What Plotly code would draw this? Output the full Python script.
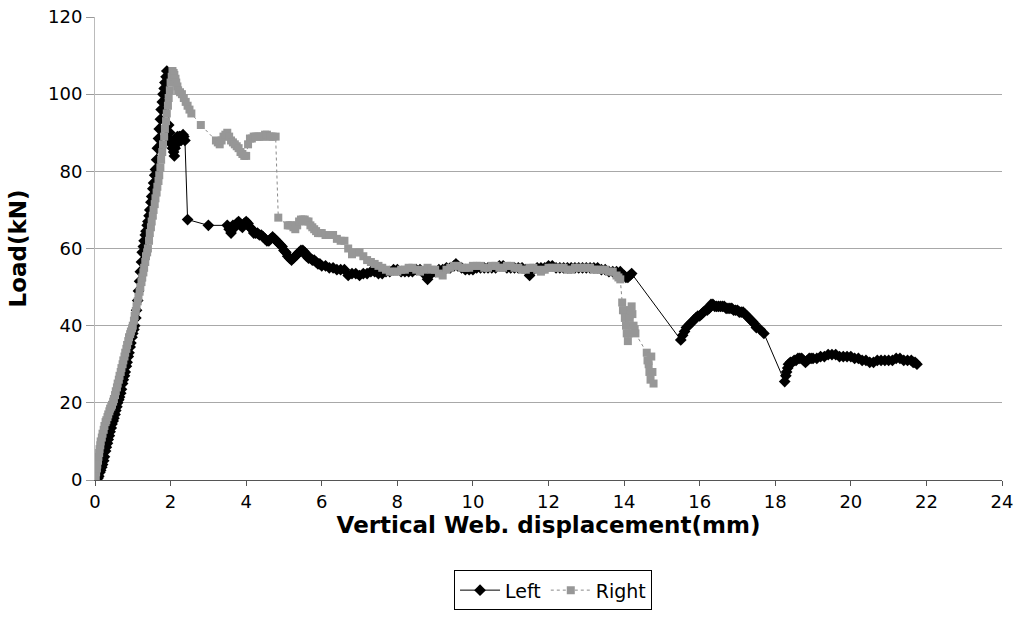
import plotly.graph_objects as go

# Left series (black diamonds)
left_x = [0.05, 0.08, 0.1, 0.13, 0.15, 0.18, 0.2, 0.23, 0.25, 0.28, 0.3, 0.33, 0.35, 0.38, 0.4, 0.43, 0.45, 0.48,
          0.5, 0.53, 0.55, 0.58, 0.6, 0.63, 0.65, 0.68, 0.7, 0.73, 0.75, 0.78, 0.8, 0.83, 0.85, 0.88, 0.9, 0.93,
          0.95, 0.98, 1.0, 1.03, 1.05, 1.08, 1.1, 1.13, 1.15, 1.18, 1.2, 1.23, 1.25, 1.28, 1.3, 1.33, 1.35, 1.38,
          1.4, 1.43, 1.45, 1.48, 1.5, 1.53, 1.55, 1.58, 1.6, 1.63, 1.65, 1.68, 1.7, 1.73, 1.75, 1.78, 1.8, 1.83,
          1.85, 1.88, 1.9,
          1.95, 1.98, 2.0, 2.03, 2.05, 2.08, 2.1, 2.12, 2.15, 2.18, 2.2, 2.23, 2.25, 2.28, 2.3, 2.33, 2.35, 2.38,
          2.45, 3.0, 3.5,
          3.55, 3.6, 3.65, 3.7, 3.75, 3.8, 3.85, 3.9, 3.95, 4.0, 4.05, 4.1, 4.15, 4.2, 4.25, 4.3, 4.35, 4.4, 4.45,
          4.5, 4.55, 4.6, 4.65, 4.7, 4.75, 4.8, 4.85, 4.9, 4.95, 5.0, 5.05, 5.1, 5.15, 5.2, 5.25, 5.3, 5.35, 5.4,
          5.45, 5.5, 5.55, 5.6, 5.65, 5.7, 5.75, 5.8, 5.85, 5.9, 5.95, 6.0, 6.1, 6.2, 6.3, 6.4, 6.5, 6.6, 6.7,
          6.8, 6.9, 7.0, 7.1, 7.2, 7.3, 7.4, 7.5, 7.6, 7.7, 7.8, 7.9,
          8.0, 8.1, 8.2, 8.3, 8.4, 8.5, 8.6, 8.7, 8.8, 8.9, 9.0, 9.1, 9.2, 9.3, 9.4, 9.5, 9.55, 9.6, 9.7, 9.8, 9.9,
          10.0, 10.1, 10.2, 10.3, 10.4, 10.5, 10.6, 10.7, 10.8, 10.9, 11.0, 11.1, 11.2, 11.3, 11.4, 11.5, 11.6,
          11.7, 11.8, 11.9, 12.0, 12.1, 12.2, 12.3, 12.4, 12.5, 12.6, 12.7, 12.8, 12.9, 13.0, 13.1, 13.2, 13.3,
          13.4, 13.5, 13.6, 13.7, 13.8, 13.9, 14.0, 14.05, 14.1, 14.15, 14.2,
          15.5, 15.55, 15.6, 15.65, 15.7, 15.75, 15.8, 15.85, 15.9, 15.95, 16.0, 16.05, 16.1, 16.15, 16.2, 16.25,
          16.3, 16.35, 16.4, 16.45, 16.5, 16.55, 16.6, 16.65, 16.7, 16.75, 16.8, 16.85, 16.9, 16.95, 17.0, 17.05,
          17.1, 17.15, 17.2, 17.25, 17.3, 17.35, 17.4, 17.45, 17.5, 17.6, 17.7,
          18.25, 18.28, 18.3, 18.33, 18.35, 18.4, 18.45, 18.5, 18.55, 18.6, 18.65, 18.7, 18.75, 18.8, 18.85, 18.9,
          18.95, 19.0, 19.1, 19.2, 19.3, 19.4, 19.5, 19.6, 19.7, 19.8, 19.9, 20.0, 20.1, 20.2, 20.3, 20.4, 20.5,
          20.6, 20.7, 20.8, 20.9, 21.0, 21.1, 21.2, 21.3, 21.4, 21.5, 21.6, 21.65, 21.7, 21.75]
left_y = [0, 0.5, 1, 2, 2.5, 3.3, 4, 5, 6, 7.5, 8.5, 9.5, 10.5, 11.5, 12.5, 13.5, 14.5, 15.3,
          16, 17, 18, 19, 20, 20.8, 21.5, 22.5, 23.5, 25, 26, 27, 28, 29.5, 30.5, 32, 33, 34.5,
          35.5, 37, 38, 39, 40, 42, 44, 46.5, 49, 51.5, 54, 56.5, 59, 60.5, 62, 63.5, 64.5, 66,
          67, 68.5, 70, 72, 73.5, 75.5, 77, 79, 80.5, 83, 86, 88.5, 91, 93.5, 96, 98, 100, 101.5,
          103, 104.5, 106,
          92, 90, 88, 87, 86, 85, 84, 86, 87, 89, 88, 89, 89, 88, 88.5, 89.5, 89, 88,
          67.5, 66, 66,
          65, 64, 66, 65.5, 66.5, 67, 66, 65.5, 66.5, 67, 66.5, 65.5, 65, 64, 64, 64, 63.5, 63.5, 63,
          62.5, 62, 62, 62.5, 63, 62.5, 62, 61.5, 61, 60.5, 59.5, 59, 58, 57.5, 57, 57.5, 58, 58.5, 59,
          59.5, 59.5, 59, 58, 57.5, 57.5, 57, 57, 56.5, 56, 56, 55.5, 55.5, 55, 55, 54.5, 54.5, 54.5, 53,
          53.5, 53.5, 53, 53.5, 53.5, 54, 54, 53.5, 53.5, 54, 54, 54.5,
          54.5, 54, 54, 54, 54, 54.5, 54.5, 53.5, 52, 53.5, 54, 54.5, 54.5, 55, 55, 55.5, 56, 55.5, 55, 54.5, 54.5,
          54.5, 55, 55, 55, 55, 55, 55, 55.5, 55.5, 55, 55, 55, 55, 55, 54.5, 53, 54.5,
          55, 55, 55, 55.5, 55.5, 55, 55, 55, 55, 55, 55, 55, 55, 55, 55, 55, 55,
          54.5, 54.5, 54, 54, 54, 54, 53, 52.5, 52.5, 53, 53.5,
          36.3, 37.5, 38.5, 39.5, 40, 40.5, 41, 41.5, 42, 42.5, 42.5, 43, 43.5, 44, 44, 44.5,
          45.5, 45.5, 45, 45, 45, 45, 45, 45, 44.5, 44.5, 44.5, 44.5, 44, 44, 44, 43.5,
          43.5, 43.5, 43, 42.5, 42, 41.5, 41, 40.5, 39.5, 39, 38,
          25.5, 27, 28, 29, 30, 30.5, 30.5, 31, 31, 31.5, 31.5, 31.5, 31, 30.5, 31, 31.5,
          31.5, 31.5, 31.5, 32, 32, 32.5, 32.5, 32.5, 32, 32, 32, 32, 31.5, 31.5, 31, 31, 30.5,
          30.5, 31, 31, 31, 31, 31, 31.5, 31.5, 31, 31, 31, 30.5, 30.5, 30]

# Right series (grey squares)
right_x = [0.0, 0.02, 0.03, 0.05, 0.06, 0.08, 0.09, 0.11, 0.12, 0.14, 0.15, 0.18, 0.2, 0.23, 0.25, 0.28, 0.3, 0.33,
           0.35, 0.38, 0.4, 0.43, 0.45, 0.48, 0.5, 0.53, 0.55, 0.58, 0.6, 0.63, 0.65, 0.68, 0.7, 0.73, 0.75, 0.78,
           0.8, 0.83, 0.85, 0.88, 0.9, 0.93, 0.95, 0.98, 1.0, 1.03, 1.05, 1.08, 1.1, 1.13, 1.15, 1.18, 1.2, 1.23,
           1.25, 1.28, 1.3, 1.33, 1.35, 1.38, 1.4, 1.43, 1.45, 1.48, 1.5, 1.53, 1.55, 1.58, 1.6, 1.63, 1.65, 1.68,
           1.7, 1.73, 1.75, 1.78, 1.8, 1.83, 1.85, 1.88, 1.9, 1.93, 1.95, 1.98, 2.0, 2.03, 2.05,
           2.08, 2.1, 2.13, 2.15, 2.18, 2.2, 2.25, 2.3, 2.35, 2.4, 2.45, 2.5, 2.55, 2.8, 3.2, 3.25, 3.3, 3.35,
           3.4, 3.45, 3.5, 3.55, 3.6, 3.65, 3.7, 3.75, 3.8, 3.85, 3.9, 3.95, 4.0, 4.05, 4.1, 4.15, 4.2, 4.25, 4.3,
           4.35, 4.4, 4.45, 4.5, 4.55, 4.6, 4.65, 4.7, 4.78,
           4.85, 5.1, 5.15, 5.2, 5.25, 5.3, 5.35, 5.4, 5.45, 5.5, 5.55, 5.6, 5.65, 5.7, 5.75, 5.8, 5.85, 5.9, 5.95,
           6.0, 6.1, 6.2, 6.3, 6.4, 6.5, 6.6, 6.7, 6.8, 6.9, 7.0, 7.1, 7.2, 7.3, 7.4, 7.5, 7.6, 7.7, 7.8, 7.9,
           8.0, 8.1, 8.2, 8.3, 8.4, 8.5, 8.6, 8.7, 8.8, 8.9, 9.0, 9.1, 9.2, 9.3, 9.4, 9.5, 9.6, 9.7, 9.8, 9.9,
           10.0, 10.1, 10.2, 10.3, 10.4, 10.5, 10.6, 10.7, 10.8, 10.9, 11.0, 11.1, 11.2, 11.3, 11.4, 11.5, 11.6,
           11.7, 11.8, 11.9, 12.0, 12.1, 12.2, 12.3, 12.4, 12.5, 12.6, 12.7, 12.8, 12.9, 13.0, 13.1, 13.2, 13.3,
           13.4, 13.5, 13.6, 13.7, 13.8, 13.85, 13.9,
           13.95, 13.97, 14.0, 14.02, 14.05, 14.07, 14.1, 14.12, 14.15, 14.17, 14.2, 14.22, 14.25, 14.28, 14.3,
           14.6, 14.62, 14.65, 14.67, 14.7, 14.72, 14.75, 14.78]
right_y = [0, 1, 2, 3, 4, 5, 6, 7, 8, 9, 10, 11, 12, 13, 14, 15, 15.5, 16.3,
           17, 17.8, 18.5, 19, 19.5, 20.3, 21, 22, 23, 24, 25, 26, 27, 28, 29, 30, 31, 32,
           33, 34, 35, 36, 37, 37.8, 38.5, 39.3, 40, 41.3, 42.5, 43.8, 45, 46.3, 47.5, 48.8, 50, 51.3,
           52.5, 53.8, 55, 56.5, 58, 59, 60, 62, 64, 65.5, 67, 68.5, 70, 71.5, 73, 74.5, 76, 77.5,
           79, 81, 83, 85, 87, 89, 91, 93, 95, 97, 99, 101, 103, 104.5, 106,
           105.5, 105, 104, 103, 102, 101, 100.5, 100, 99, 98, 97, 96, 95, 92, 88, 87.5, 87, 88,
           89, 89.5, 90, 89, 88, 87.5, 87, 86.5, 86, 85, 84.5, 84, 84, 87, 88.5, 88.5, 89, 89, 89,
           89, 89, 89, 89.5, 89.5, 89, 89, 89, 89,
           68, 66, 66, 66, 65.5, 65, 66, 67, 67.5, 67.5, 67.5, 67, 67, 66, 65.5, 65, 64.5, 64, 64,
           64, 63.5, 63.5, 63.5, 62.5, 62, 62, 60, 58.5, 59, 59, 58, 57, 56.5, 56, 55.5, 55, 54.5, 54, 54,
           54, 54.5, 54.5, 55, 55, 54.5, 54, 54.5, 55, 54.5, 54.5, 53.5, 53, 54.5, 55, 55.5, 55.5, 55, 55, 55,
           55.5, 55.5, 55.5, 55, 55, 55.5, 55.5, 55, 55, 55.5, 55.5, 55, 55, 54.5, 54.5, 55, 55,
           54.5, 54, 54.5, 55, 55, 55, 55, 55, 54.5, 54.5, 55, 55, 55, 55, 55, 54.5, 54.5,
           54.5, 54.5, 54, 54, 53, 52.5, 52,
           46, 44, 44, 42, 40, 38, 36, 38, 42, 44, 45, 43, 40, 39, 38,
           33, 31, 30, 28, 26, 32, 28, 25]

x_ticks = list(range(0, 25, 2))
y_ticks = list(range(0, 121, 20))

fig = go.Figure()
fig.add_trace(go.Scatter(
    x=left_x, y=left_y, name="Left", mode="lines+markers",
    line=dict(color="black", width=1),
    marker=dict(symbol="diamond", size=9, color="black"),
))
fig.add_trace(go.Scatter(
    x=right_x, y=right_y, name="Right", mode="lines+markers",
    line=dict(color="#8a8a8a", width=1, dash="dot"),
    marker=dict(symbol="square", size=8, color="#979797"),
))

font_family = "DejaVu Sans, Liberation Sans, Arial, sans-serif"
fig.update_layout(
    width=1025, height=617,
    margin=dict(l=95, r=23, t=17, b=137, autoexpand=False),
    paper_bgcolor="white", plot_bgcolor="white",
    font=dict(family=font_family, size=18, color="black"),
    showlegend=True,
    legend=dict(orientation="h", x=0.505, xanchor="center", y=-0.195, yanchor="top",
                bordercolor="black", borderwidth=1, font=dict(size=19),
                itemwidth=40, tracegroupgap=0),
    xaxis=dict(
        range=[0, 24], tickvals=x_ticks, ticktext=[str(v) for v in x_ticks],
        showgrid=False, zeroline=False, automargin=False,
        showline=True, linecolor="#555555", linewidth=1,
        ticks="outside", ticklen=5, tickcolor="#555555",
        title=dict(text="<b>Vertical Web. displacement(mm)</b>", font=dict(size=23), standoff=1),
        tickfont=dict(size=18),
    ),
    yaxis=dict(
        range=[0, 120], tickvals=y_ticks, ticktext=[str(v) for v in y_ticks],
        showgrid=True, gridcolor="#a8a8a8", gridwidth=1, zeroline=False, automargin=False,
        showline=True, linecolor="#bbbbbb", linewidth=1,
        ticks="outside", ticklen=8, tickcolor="#999999",
        title=dict(text="<b>Load(kN)</b>", font=dict(size=23), standoff=14),
        tickfont=dict(size=18),
    ),
)

fig.write_html("out.html")
